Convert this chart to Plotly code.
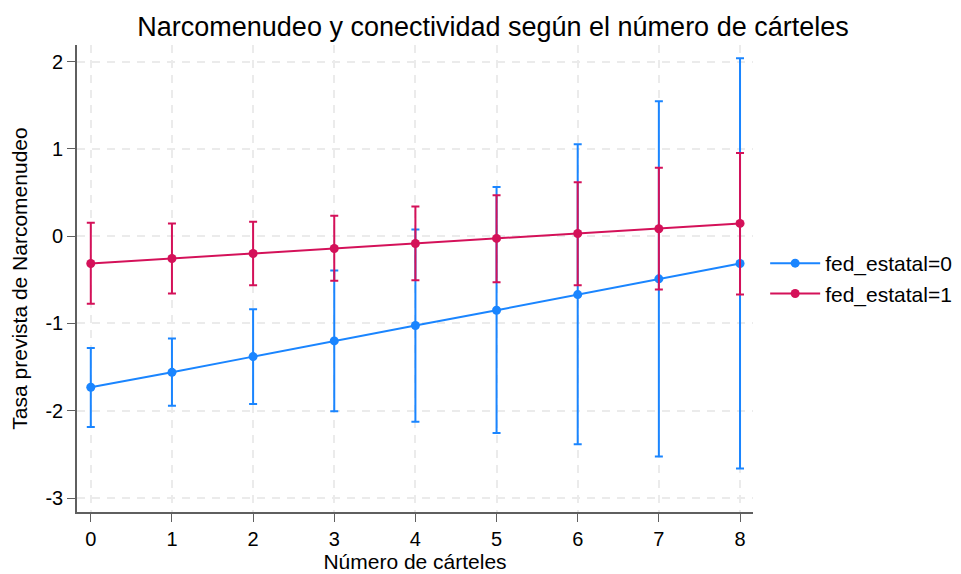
import plotly.graph_objects as go

x_vals = [0, 1, 2, 3, 4, 5, 6, 7, 8]

fed0_est = [-1.731, -1.560, -1.380, -1.200, -1.024, -0.849, -0.669, -0.489, -0.313]
fed0_hi = [-1.280, -1.173, -0.837, -0.393, 0.077, 0.562, 1.052, 1.545, 2.038]
fed0_lo = [-2.186, -1.942, -1.922, -2.007, -2.125, -2.255, -2.385, -2.523, -2.661]

fed1_est = [-0.313, -0.256, -0.198, -0.141, -0.084, -0.026, 0.031, 0.085, 0.146]
fed1_hi = [0.154, 0.146, 0.165, 0.234, 0.341, 0.470, 0.619, 0.784, 0.952]
fed1_lo = [-0.775, -0.657, -0.562, -0.512, -0.505, -0.527, -0.562, -0.611, -0.669]

series = [
    ("fed_estatal=0", fed0_est, fed0_hi, fed0_lo, "#1a85ff"),
    ("fed_estatal=1", fed1_est, fed1_hi, fed1_lo, "#d41159"),
]

y_ticks = [-3, -2, -1, 0, 1, 2]
y_ticktext = ["-3", "-2", "-1", "0", "1", "2"]

fig = go.Figure()
for name, est, hi, lo, col in series:
    fig.add_trace(go.Scatter(
        x=x_vals, y=est, name=name, mode="lines+markers",
        line=dict(color=col, width=2),
        marker=dict(color=col, size=9),
        error_y=dict(type="data", symmetric=False,
                     array=[h - e for h, e in zip(hi, est)],
                     arrayminus=[e - l for e, l in zip(est, lo)],
                     color=col, thickness=2, width=4),
    ))

font_family = "Liberation Sans, Arial, sans-serif"
axis_common = dict(
    showline=True, linecolor="#5f5f5f", linewidth=1.6,
    ticks="outside", ticklen=8, tickwidth=1.4, tickcolor="#5f5f5f",
    showgrid=True, gridcolor="#ebebeb", griddash="8px,7px", gridwidth=1.6,
    zeroline=False, automargin=False, tickfont=dict(size=20, color="#000000"),
)
fig.update_layout(
    width=961, height=574,
    margin=dict(l=69, r=216, t=37, b=70),
    paper_bgcolor="white", plot_bgcolor="white",
    font=dict(family=font_family, size=20, color="#000000"),
    title=dict(text="Narcomenudeo y conectividad según el número de cárteles",
               xref="container", x=0.5047, xanchor="center",
               yref="container", y=0.967, yanchor="middle",
               font=dict(size=27, color="#000000")),
    legend=dict(x=1.018, xanchor="left", y=0.5, yanchor="middle",
                font=dict(size=21), tracegroupgap=0, itemwidth=50,
                bgcolor="rgba(0,0,0,0)"),
    xaxis=dict(range=[-0.17, 8.16], tickvals=x_vals,
               title=dict(text="Número de cárteles", font=dict(size=21), standoff=4),
               **axis_common),
    yaxis=dict(range=[-3.16, 2.19], tickvals=y_ticks, ticktext=y_ticktext,
               title=dict(text="Tasa prevista de Narcomenudeo", font=dict(size=21), standoff=12),
               **axis_common),
)

fig.write_html("out.html")
